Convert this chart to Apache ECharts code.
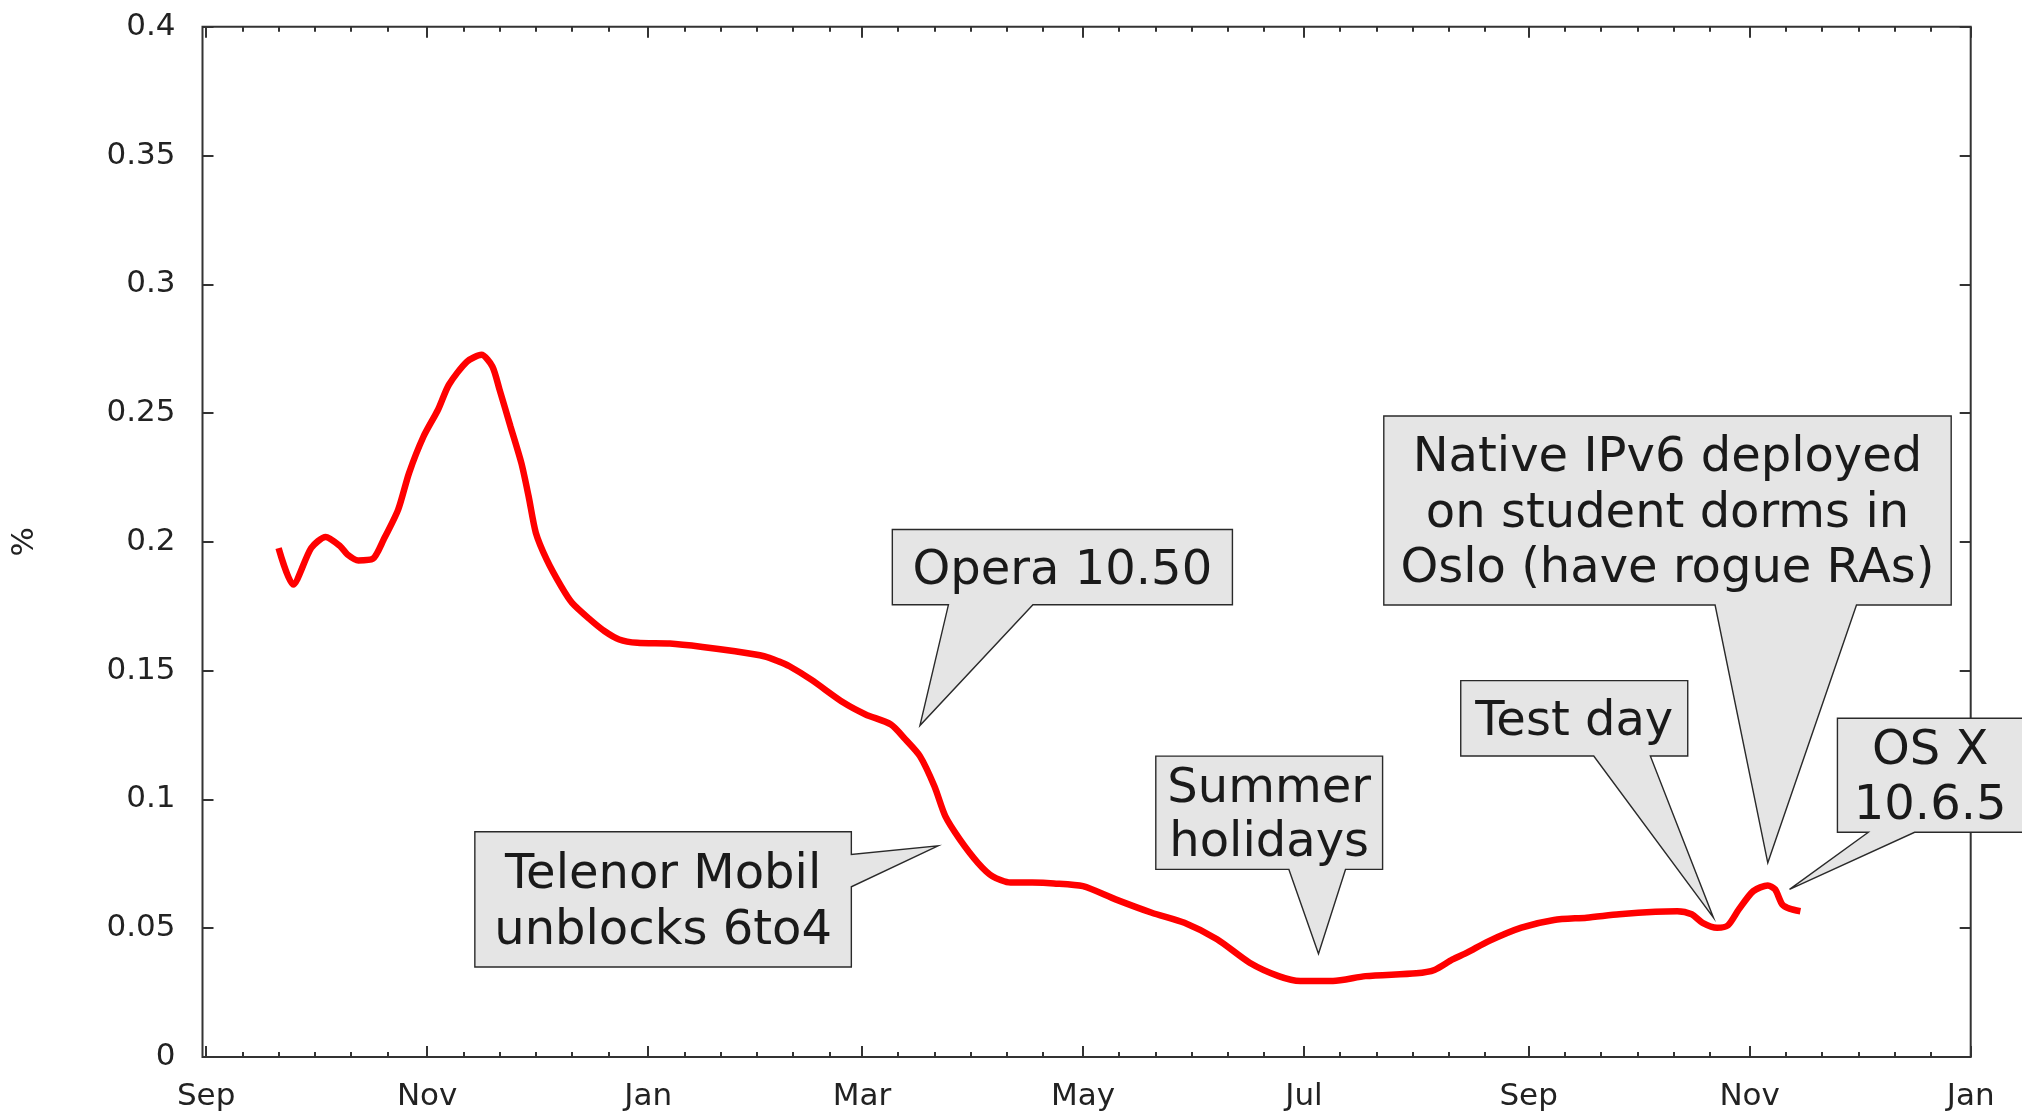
<!DOCTYPE html>
<html><head><meta charset="utf-8">
<script src="https://cdn.jsdelivr.net/npm/echarts@6/dist/echarts.min.js"></script>
<style>html,body{margin:0;padding:0;background:#fff}#c{width:2022px;height:1112px}</style>
</head><body><div id="c"></div>
<script>
// ---- data ----
const dates = ['2009-09-21','2009-09-25','2009-09-30','2009-10-04','2009-10-08','2009-10-10','2009-10-13','2009-10-17','2009-10-20','2009-10-24','2009-10-27','2009-10-31','2009-11-04','2009-11-07','2009-11-12','2009-11-16','2009-11-19','2009-11-21','2009-11-24','2009-11-27','2009-11-29','2009-12-01','2009-12-04','2009-12-08','2009-12-11','2009-12-16','2009-12-20','2009-12-24','2009-12-29','2010-01-07','2010-01-16','2010-01-25','2010-02-02','2010-02-06','2010-02-09','2010-02-15','2010-02-24','2010-03-02','2010-03-09','2010-03-13','2010-03-17','2010-03-21','2010-03-24','2010-03-28','2010-04-02','2010-04-06','2010-04-11','2010-04-17','2010-04-23','2010-05-01','2010-05-10','2010-05-20','2010-05-29','2010-06-07','2010-06-16','2010-06-24','2010-06-30','2010-07-09','2010-07-18','2010-08-01','2010-08-06','2010-08-11','2010-08-15','2010-08-21','2010-08-30','2010-09-08','2010-09-17','2010-09-26','2010-10-06','2010-10-12','2010-10-16','2010-10-19','2010-10-23','2010-10-26','2010-10-29','2010-11-02','2010-11-06','2010-11-08','2010-11-10','2010-11-12','2010-11-15'];
const values = [0.1976,0.1834,0.1976,0.2019,0.1983,0.1951,0.1928,0.1934,0.2009,0.2125,0.2267,0.2409,0.2513,0.2610,0.2700,0.2726,0.2681,0.2590,0.2448,0.2306,0.2177,0.2035,0.1931,0.1827,0.1763,0.1698,0.1653,0.1621,0.1608,0.1605,0.1592,0.1575,0.1556,0.1536,0.1517,0.1465,0.1375,0.1330,0.1291,0.1233,0.1168,0.1051,0.0935,0.0845,0.0754,0.0702,0.0677,0.0677,0.0674,0.0663,0.0612,0.0560,0.0521,0.0457,0.0366,0.0314,0.0295,0.0295,0.0314,0.0325,0.0338,0.0379,0.0405,0.0450,0.0502,0.0532,0.0541,0.0554,0.0564,0.0566,0.0554,0.0521,0.0502,0.0511,0.0573,0.0644,0.0666,0.0651,0.0592,0.0576,0.0566];
const tickDates = ['2009-09-01','2009-11-01','2010-01-01','2010-03-01','2010-05-01','2010-07-01','2010-09-01','2010-11-01','2011-01-01'];
const tickLabels = ['Sep','Nov','Jan','Mar','May','Jul','Sep','Nov','Jan'];
const calloutTexts = ['Opera 10.50','Telenor Mobil\nunblocks 6to4','Summer\nholidays','Test day','Native IPv6 deployed\non student dorms in\nOslo (have rogue RAs)','OS X\n10.6.5'];
const calloutDates = ['2010-03-17','2010-03-22','2010-07-05','2010-10-22','2010-11-06','2010-11-12'];
const calloutValues = [0.1287,0.0820,0.0401,0.0541,0.0754,0.0651];

// ---- layout (pixel offsets of each callout box relative to its tip) ----
const calloutLayout = [
  {side:'bottom', box:[-27.6,-196,312.5,-120.7], base:[28.5,113], lh:55.5},
  {side:'right',  box:[-463.2,-14,-86.7,121.2], base:[8.7,41], lh:55.5},
  {side:'bottom', box:[-162.7,-197.6,64.1,-84.3], base:[-29.6,27], lh:54.5},
  {side:'bottom', box:[-252.7,-237,-25.7,-161.6], base:[-119.7,-63.1], lh:55.5},
  {side:'bottom', box:[-384,-446.8,183.4,-257.8], base:[-52.7,88.7], lh:55.5},
  {side:'bottom', box:[47.9,-171.1,233.3,-57], base:[78.8,125.1], lh:55.5}
];

const DAY = 86400000;
const majorTicks = tickDates.map(d => Date.parse(d));
const minorTicks = [];
for (let i = 0; i < majorTicks.length - 1; i++) {
  for (let k = 10; k <= 50; k += 10) minorTicks.push(majorTicks[i] + k * DAY);
}
const xMin = Date.parse('2009-08-31');
const xMax = Date.parse('2011-01-01');
const FONT = '"DejaVu Sans", sans-serif';
const axisCol = '#333';

function xAx(pos, ticks, len, labels) {
  return {
    type: 'value', position: pos, min: xMin, max: xMax,
    axisLine: {show: false},
    splitLine: {show: false},
    axisTick: {show: true, inside: true, length: len, customValues: ticks, lineStyle: {color: axisCol, width: 2}},
    axisLabel: labels ? {
      show: true, customValues: majorTicks, margin: 24,
      fontFamily: FONT, fontSize: 31, color: '#222',
      formatter: v => { const i = majorTicks.indexOf(v); return i >= 0 ? tickLabels[i] : ''; }
    } : {show: false}
  };
}

const chart = echarts.init(document.getElementById('c'), null, {renderer: 'canvas'});
chart.setOption({
  animation: false,
  backgroundColor: '#fff',
  grid: {left: 202.5, right: 51.3, top: 26.7, bottom: 54.3, show: true, borderColor: axisCol, borderWidth: 2, backgroundColor: 'transparent'},
  xAxis: [
    xAx('bottom', majorTicks, 11, true),
    xAx('bottom', minorTicks, 5, false),
    xAx('top', majorTicks, 11, false),
    xAx('top', minorTicks, 5, false)
  ],
  yAxis: [
    {type: 'value', position: 'left', min: 0, max: 0.4, interval: 0.05,
     name: '%', nameLocation: 'middle', nameRotate: 90, nameGap: 162,
     nameTextStyle: {fontFamily: FONT, fontSize: 31, color: '#222'},
     axisLine: {show: false}, splitLine: {show: false},
     axisTick: {show: true, inside: true, length: 11, lineStyle: {color: axisCol, width: 2}},
     axisLabel: {fontFamily: FONT, fontSize: 31, color: '#222', margin: 27}},
    {type: 'value', position: 'right', min: 0, max: 0.4, interval: 0.05,
     axisLine: {show: false}, splitLine: {show: false},
     axisTick: {show: true, inside: true, length: 11, lineStyle: {color: axisCol, width: 2}},
     axisLabel: {show: false}}
  ],
  series: [
    {type: 'line', xAxisIndex: 0, yAxisIndex: 0,
     data: dates.map((d, i) => [Date.parse(d), values[i]]),
     showSymbol: false, smooth: 0.25,
     lineStyle: {color: '#ff0000', width: 6.5}, z: 3},
    {type: 'custom', xAxisIndex: 0, yAxisIndex: 0, clip: false, z: 5,
     data: calloutDates.map((d, i) => [Date.parse(d), calloutValues[i], i]),
     renderItem: function (params, api) {
       const i = api.value(2);
       const p = api.coord([api.value(0), api.value(1)]);
       const L = calloutLayout[i];
       const l = p[0] + L.box[0], t = p[1] + L.box[1], r = p[0] + L.box[2], b = p[1] + L.box[3];
       let pts;
       if (L.side === 'bottom') {
         pts = [[l, t], [r, t], [r, b], [p[0] + L.base[1], b], [p[0], p[1]], [p[0] + L.base[0], b], [l, b]];
       } else {
         pts = [[l, t], [r, t], [r, p[1] + L.base[0]], [p[0], p[1]], [r, p[1] + L.base[1]], [r, b], [l, b]];
       }
       return {type: 'group', children: [
         {type: 'polygon', shape: {points: pts}, style: {fill: '#e5e5e5', stroke: '#2a2a2a', lineWidth: 1.4}},
         {type: 'text', style: {text: calloutTexts[i], x: (l + r) / 2, y: (t + b) / 2 + 4,
           textAlign: 'center', textVerticalAlign: 'middle', align: 'center', verticalAlign: 'middle',
           font: '48px ' + FONT, lineHeight: L.lh, fill: '#1a1a1a'}}
       ]};
     }}
  ]
});
</script></body></html>
